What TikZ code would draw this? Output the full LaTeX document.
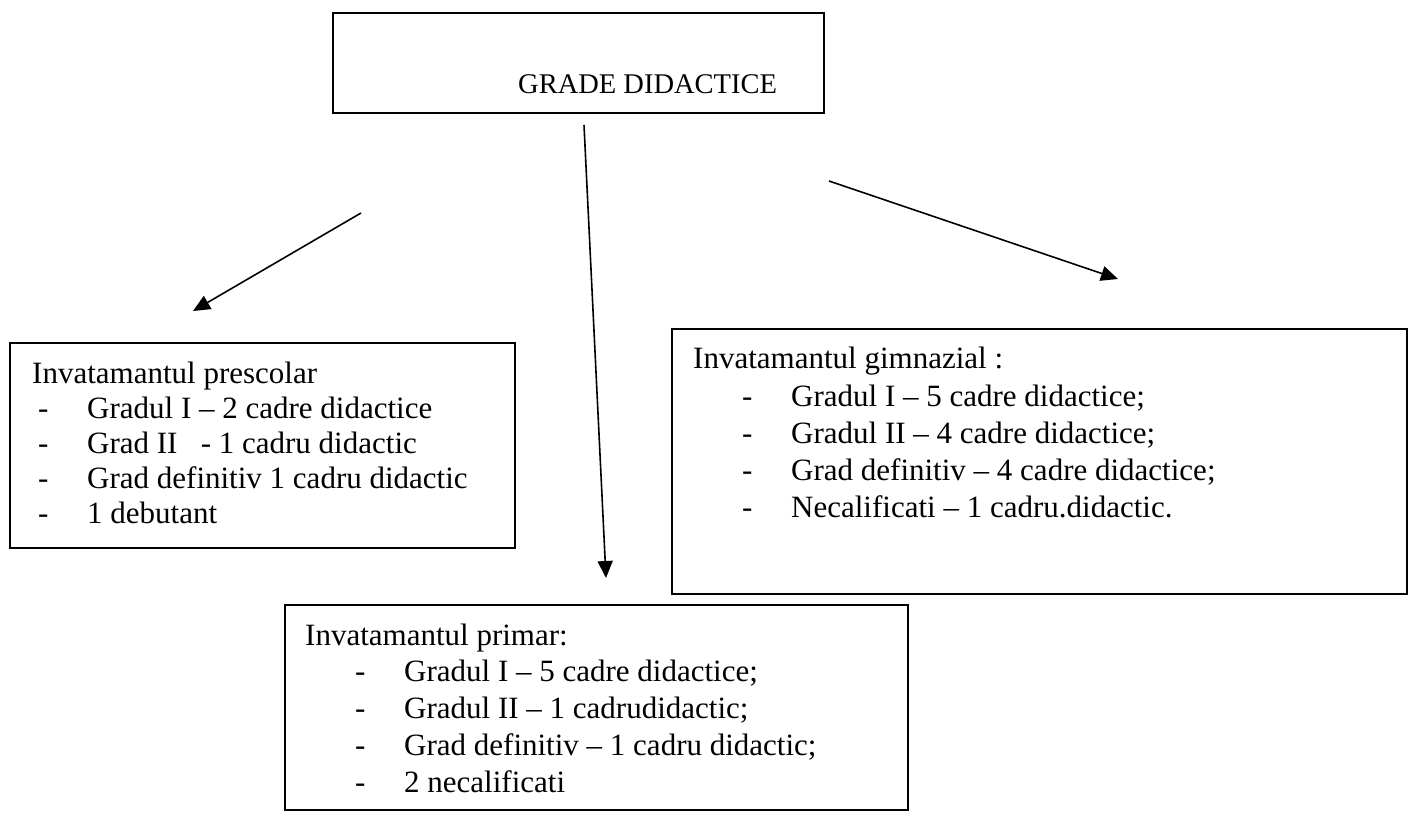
\documentclass[tikz,border=0pt]{standalone}
\usepackage{fontspec}
\setmainfont{Liberation Serif}
\usetikzlibrary{arrows.meta}
\begin{document}
\begin{tikzpicture}[x=1pt,y=-1pt,
  box/.style={draw=black,line width=1.8pt,fill=none},
  txt/.style={anchor=base west,inner sep=0pt,font=\fontsize{31}{35}\selectfont},
  ttl/.style={anchor=base west,inner sep=0pt,font=\fontsize{28.5}{32}\selectfont},
  arr/.style={line width=1.6pt,-{Triangle[length=17pt,width=15pt]}}]
\useasboundingbox (0,0) rectangle (1409,812);
\fill[white] (0,0) rectangle (1409,812);
% boxes
\draw[box] (333,13) rectangle (824,113);
\draw[box] (10,343) rectangle (515,548);
\draw[box] (672,329) rectangle (1407,594);
\draw[box] (285,605) rectangle (908,810);
% title
\node[ttl] (title) at (518,93) {GRADE DIDACTICE};
% left box
\node[txt] (l0) at (32,383) {Invatamantul prescolar};
\node[txt] (ld1) at (38,418) {-};
\node[txt] (l1) at (87,418) {Gradul I – 2 cadre didactice};
\node[txt] (ld2) at (38,453) {-};
\node[txt] (l2) at (87,453) {Grad II\ \ \ - 1 cadru didactic};
\node[txt] (ld3) at (38,488) {-};
\node[txt] (l3) at (87,488) {Grad definitiv 1 cadru didactic};
\node[txt] (ld4) at (38,523) {-};
\node[txt] (l4) at (87,523) {1 debutant};
% right box
\node[txt] (r0) at (693,368) {Invatamantul gimnazial :};
\node[txt] (rd1) at (742,406) {-};
\node[txt] (r1) at (791,406) {Gradul I – 5 cadre didactice;};
\node[txt] (rd2) at (742,443) {-};
\node[txt] (r2) at (791,443) {Gradul II – 4 cadre didactice;};
\node[txt] (rd3) at (742,480) {-};
\node[txt] (r3) at (791,480) {Grad definitiv – 4 cadre didactice;};
\node[txt] (rd4) at (742,517) {-};
\node[txt] (r4) at (791,517) {Necalificati – 1 cadru.didactic.};
% bottom box
\node[txt] (b0) at (305,645) {Invatamantul primar:};
\node[txt] (bd1) at (355,681) {-};
\node[txt] (b1) at (404,681) {Gradul I – 5 cadre didactice;};
\node[txt] (bd2) at (355,718) {-};
\node[txt] (b2) at (404,718) {Gradul II – 1 cadrudidactic;};
\node[txt] (bd3) at (355,755) {-};
\node[txt] (b3) at (404,755) {Grad definitiv – 1 cadru didactic;};
\node[txt] (bd4) at (355,792) {-};
\node[txt] (b4) at (404,792) {2 necalificati};
% arrows
\coordinate (a1s) at (361,213);
\coordinate (a1e) at (193,311);
\coordinate (a2s) at (584,125);
\coordinate (a2e) at (606,578);
\coordinate (a3s) at (829,181);
\coordinate (a3e) at (1118,279);
\draw[arr] (a1s) -- (a1e);
\draw[arr] (a2s) -- (a2e);
\draw[arr] (a3s) -- (a3e);
\end{tikzpicture}
\end{document}
